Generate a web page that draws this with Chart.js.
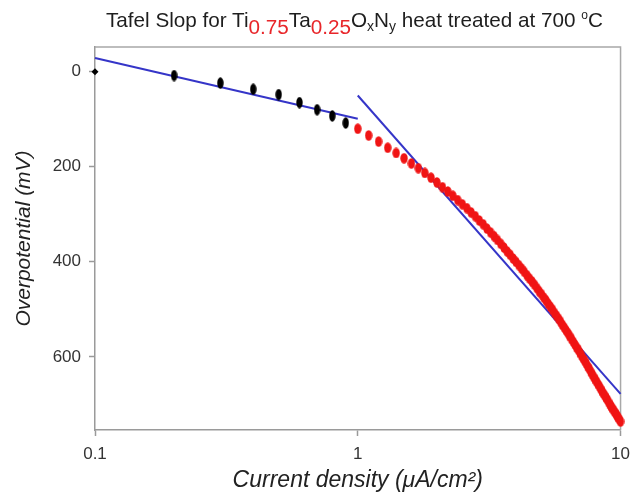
<!DOCTYPE html>
<html>
<head>
<meta charset="utf-8">
<script src="https://cdn.jsdelivr.net/npm/chart.js@4.4.0/dist/chart.umd.min.js"></script>
<style>
  html, body { margin: 0; padding: 0; background: #fff; }
  #wrap { position: relative; width: 638px; height: 494px; }
  canvas { position: absolute; left: 0; top: 0; }
  #title {
    position: absolute; left: 106px; top: 8px;
    font: 20.7px "Liberation Sans", Arial, sans-serif; line-height: 24px;
    color: #1e1e1e; white-space: nowrap;
  }
  #title .n { color: #e8262a; position: relative; top: 7px; }
  #title .s { font-size: 14px; position: relative; top: 4px; }
  #title .o { font-size: 12px; position: relative; top: -8px; }
</style>
</head>
<body>
<div id="wrap">
  <canvas id="c" width="638" height="494"></canvas>
  <div id="title">Tafel Slop for Ti<span class="n">0.75</span>Ta<span class="n">0.25</span>O<span class="s">x</span>N<span class="s">y</span> heat treated at 700 <span class="o">o</span>C</div>
</div>
<script>
// Low current region (black points)
const blackCurrent = [0.1, 0.2, 0.3, 0.4, 0.5, 0.6, 0.7, 0.8, 0.9];
const blackPotential = [0, 8, 24, 37, 48, 65, 80, 93, 108];

// High current region (red points), μA/cm² and mV
const redCurrent = [
  1.0, 1.1, 1.2, 1.3, 1.4, 1.5, 1.6, 1.7, 1.8, 1.9,
  2.0, 2.1, 2.2, 2.3, 2.4, 2.5, 2.6, 2.7, 2.8, 2.9,
  3.0, 3.1, 3.2, 3.3, 3.4, 3.5, 3.6, 3.7, 3.8, 3.9,
  4.0, 4.1, 4.2, 4.3, 4.4, 4.5, 4.6, 4.7, 4.8, 4.9,
  5.0, 5.1, 5.2, 5.3, 5.4, 5.5, 5.6, 5.7, 5.8, 5.9,
  6.0, 6.1, 6.2, 6.3, 6.4, 6.5, 6.6, 6.7, 6.8, 6.9,
  7.0, 7.1, 7.2, 7.3, 7.4, 7.5, 7.6, 7.7, 7.8, 7.9,
  8.0, 8.1, 8.2, 8.3, 8.4, 8.5, 8.6, 8.7, 8.8, 8.9,
  9.0, 9.1, 9.2, 9.3, 9.4, 9.5, 9.6, 9.7, 9.8, 9.9,
  10.0
];
const redPotential = [
  120, 134, 147, 160, 171, 182, 193, 203, 213, 223,
  233, 243, 252, 261, 270, 279, 287, 296, 304, 313,
  321, 330, 338, 346, 354, 362, 370, 378, 385, 393,
  400, 407, 414, 421, 428, 435, 441, 448, 455, 462,
  468, 475, 481, 488, 494, 500, 507, 513, 519, 525,
  532, 538, 544, 550, 556, 562, 568, 574, 580, 585,
  591, 597, 603, 608, 614, 620, 625, 631, 637, 642,
  647, 652, 657, 662, 667, 672, 677, 681, 686, 690,
  695, 700, 704, 708, 712, 716, 720, 724, 728, 732,
  736
];

// Tafel fit lines
const fitLowCurrent = [0.1, 1];
const fitLowPotential = [-29, 99];
const fitHighCurrent = [1, 10];
const fitHighPotential = [50, 678];

// Axis ticks
const xTicks = [0.1, 1, 10];
const yTicks = [0, 200, 400, 600];

const pairs = (xs, ys) => xs.map((x, i) => ({ x: x, y: ys[i] }));

// Oval marker sprite
function ovalDot(w, h, color) {
  const c = document.createElement('canvas');
  c.width = w; c.height = h;
  const g = c.getContext('2d');
  g.fillStyle = color;
  g.beginPath();
  g.ellipse(w / 2, h / 2, w / 2 - 0.3, h / 2 - 0.3, 0, 0, Math.PI * 2);
  g.fill();
  return c;
}
const blackOval = ovalDot(7, 12, '#000');
const redOval = ovalDot(8, 11, '#f01414');

// Light frame on the top and right of the plot area
const framePlugin = {
  id: 'frame',
  beforeDatasetsDraw(chart) {
    const a = chart.chartArea, ctx = chart.ctx;
    ctx.save();
    ctx.strokeStyle = '#a8a8a8';
    ctx.lineWidth = 1.5;
    ctx.beginPath();
    ctx.moveTo(a.left, a.top);
    ctx.lineTo(a.right, a.top);
    ctx.lineTo(a.right, a.bottom);
    ctx.stroke();
    ctx.restore();
  }
};

const axisGray = '#9a9a9a';
const fontFamily = '"Liberation Sans", Arial, sans-serif';
const tickFont = { family: fontFamily, size: 17 };

new Chart(document.getElementById('c'), {
  type: 'scatter',
  data: {
    datasets: [
      {
        data: pairs(blackCurrent, blackPotential),
        pointStyle: ctx => ctx.dataIndex === 0 ? 'rectRot' : blackOval,
        pointRadius: 3.5,
        backgroundColor: '#000', borderColor: '#000', borderWidth: 0,
        showLine: false, clip: false
      },
      {
        data: pairs(redCurrent, redPotential),
        pointStyle: redOval,
        pointRadius: 4,
        backgroundColor: '#f01414', borderWidth: 0,
        showLine: false, clip: false
      },
      {
        data: pairs(fitLowCurrent, fitLowPotential),
        showLine: true, borderColor: '#3535c8', borderWidth: 2,
        pointRadius: 0, clip: false
      },
      {
        data: pairs(fitHighCurrent, fitHighPotential),
        showLine: true, borderColor: '#3535c8', borderWidth: 2,
        pointRadius: 0, clip: false
      }
    ]
  },
  options: {
    responsive: false,
    devicePixelRatio: 1,
    animation: false,
    layout: { padding: { top: 47, right: 14, left: 0, bottom: 0 } },
    plugins: { legend: { display: false }, tooltip: { enabled: false } },
    scales: {
      x: {
        type: 'logarithmic',
        min: 0.1, max: 10,
        afterFit: s => { s.height = 64; },
        afterBuildTicks: s => { s.ticks = xTicks.map(v => ({ value: v })); },
        ticks: {
          callback: v => String(v),
          font: tickFont, color: '#333', padding: 8, maxRotation: 0, autoSkip: false
        },
        grid: { drawOnChartArea: false, drawTicks: true, tickLength: 6, color: axisGray, tickWidth: 1.5 },
        border: { display: true, color: axisGray, width: 1.5 },
        title: {
          display: true,
          text: 'Current density (μA/cm²)',
          font: { family: fontFamily, size: 23, style: 'italic' },
          color: '#222',
          padding: { top: 0, bottom: 0 }
        }
      },
      y: {
        type: 'linear',
        reverse: true,
        min: -52, max: 754,
        afterFit: s => { s.width = 95; },
        afterBuildTicks: s => { s.ticks = yTicks.map(v => ({ value: v })); },
        ticks: {
          callback: v => String(v),
          font: tickFont, color: '#333', padding: 8
        },
        grid: { drawOnChartArea: false, drawTicks: true, tickLength: 6, color: axisGray, tickWidth: 1.5 },
        border: { display: true, color: axisGray, width: 1.5 },
        title: {
          display: true,
          text: 'Overpotential (mV)',
          font: { family: fontFamily, size: 21, style: 'italic' },
          color: '#222',
          padding: { top: 12, bottom: 0 }
        }
      }
    }
  },
  plugins: [framePlugin]
});
</script>
</body>
</html>
